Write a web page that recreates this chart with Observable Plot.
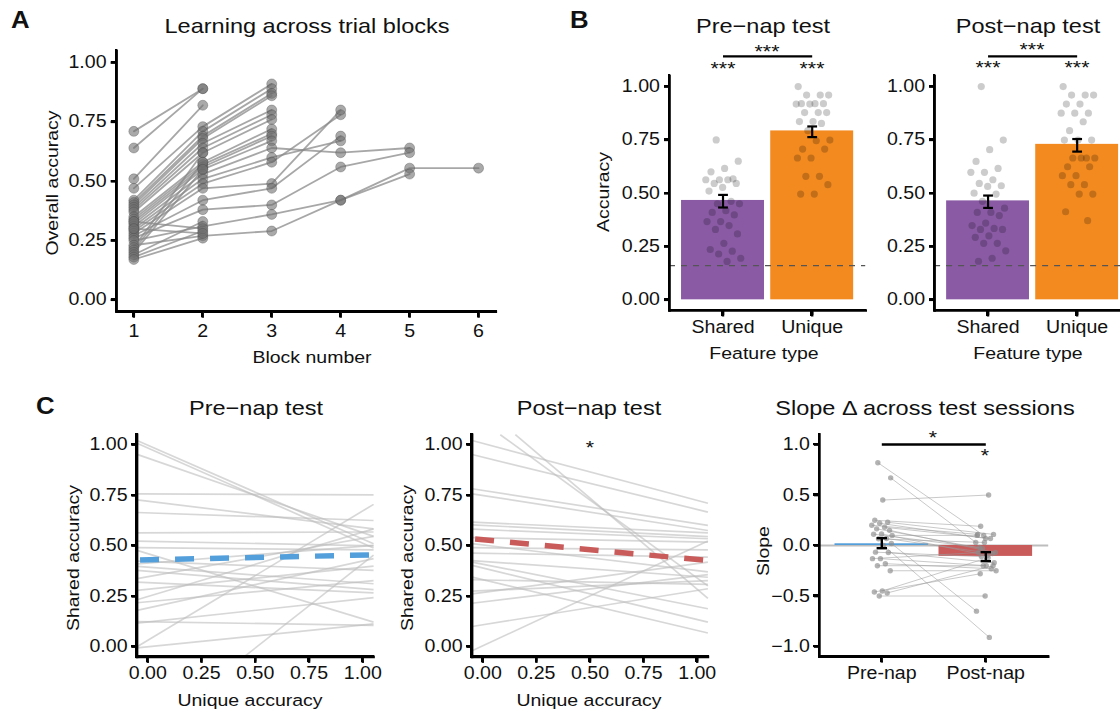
<!DOCTYPE html>
<html><head><meta charset="utf-8">
<script src="https://cdn.jsdelivr.net/npm/d3@7"></script>
<script src="https://cdn.jsdelivr.net/npm/@observablehq/plot@0.6"></script>
<style>
html,body{margin:0;padding:0;background:#fff;overflow:hidden}
#fig{position:relative;width:1120px;height:715px;overflow:hidden;background:#fff}
#fig > svg{position:absolute;left:0;top:0;display:block}
.axl{position:absolute;background:#000}
</style></head><body><div id="fig"></div>
<script>
// ---------------- DATA ----------------
// Panel A: overall accuracy per subject across trial blocks
const blockNumbers = [1, 2, 3, 4, 5, 6];
const learningCurves = [
  [0.71, 0.89],
  [0.64, 0.89],
  [0.51, 0.82],
  [0.47, 0.73, 0.91],
  [0.42, 0.71, 0.89],
  [0.41, 0.69, 0.87],
  [0.40, 0.68, 0.86],
  [0.39, 0.66, 0.80],
  [0.38, 0.64, 0.78],
  [0.37, 0.62, 0.76],
  [0.35, 0.58, 0.72],
  [0.34, 0.57, 0.70],
  [0.33, 0.56, 0.69],
  [0.32, 0.55, 0.67],
  [0.31, 0.53, 0.64, 0.62, 0.64],
  [0.30, 0.51, 0.60, 0.67],
  [0.29, 0.49, 0.58, 0.78],
  [0.28, 0.47, 0.49, 0.80],
  [0.27, 0.42, 0.47, 0.69],
  [0.26, 0.38, 0.40, 0.56, 0.62],
  [0.25, 0.31, 0.36, 0.42, 0.555, 0.555],
  [0.23, 0.27, 0.29, 0.42, 0.53],
  [0.22, 0.62],
  [0.21, 0.58],
  [0.20, 0.55],
  [0.19, 0.33],
  [0.18, 0.29],
  [0.17, 0.26],
  [0.33, 0.30],
  [0.30, 0.28]
];

// Panel B: accuracy by feature type
const featureTypes = ["Shared", "Unique"];
const preShared = [0.75,0.65,0.616,0.60,0.567,0.563,0.563,0.563,0.546,0.546,0.527,0.51,0.462,0.45,0.45,0.418,0.41,0.398,0.367,0.367,0.348,0.33,0.309,0.265,0.236,0.228,0.215,0.195,0.18];
const preUnique = [1.0,0.96,0.96,0.96,0.92,0.92,0.92,0.918,0.918,0.878,0.878,0.878,0.836,0.836,0.827,0.793,0.749,0.746,0.707,0.707,0.665,0.665,0.579,0.579,0.54,0.496,0.496];
const postShared = [1.0,0.749,0.704,0.649,0.616,0.598,0.598,0.563,0.546,0.535,0.532,0.5,0.496,0.462,0.43,0.41,0.41,0.395,0.36,0.348,0.335,0.33,0.33,0.30,0.293,0.265,0.265,0.23,0.195,0.181];
const postUnique = [1.0,0.96,0.96,0.96,0.918,0.918,0.875,0.875,0.875,0.835,0.793,0.749,0.749,0.749,0.665,0.665,0.665,0.665,0.624,0.624,0.582,0.582,0.54,0.54,0.496,0.496,0.413,0.371];
const preMeans = [0.466, 0.792];
const preSeLow = [0.433, 0.763];
const preSeHigh = [0.492, 0.813];
const postMeans = [0.464, 0.729];
const postSeLow = [0.431, 0.695];
const postSeHigh = [0.489, 0.754];
const chanceLevel = 0.16;

// Panel C: per-subject fits of shared accuracy on unique accuracy
const preIntercepts = [0.998,0.984,0.934,0.757,0.721,0.663,0.564,0.522,0.461,0.422,0.394,0.374,0.347,0.318,0.249,0.223,0.192,0.124,0.123,0.032,0.000,-0.424,0.49,0.414,0.285];
const preSlopes     = [-0.465,-0.471,-0.369,-0.005,-0.131,-0.036,0.004,-0.021,-0.323,-0.042,-0.078,-0.087,0.19,-0.049,0.319,0.10,0.233,-0.017,0.115,0.641,0.108,0.836,-0.01,0.084,0.109];
const postIntercepts = [1.113,1.187,1.007,0.939,0.774,0.749,0.615,0.601,0.58,0.539,0.504,0.463,0.423,0.409,0.39,0.332,0.331,0.278,0.269,0.222,0.109,0.005,0.49];
const postSlopes     = [-0.773,-0.902,-0.282,-0.259,-0.165,-0.165,-0.049,-0.053,-0.043,-0.02,-0.127,-0.018,-0.075,-0.21,-0.255,-0.251,-0.021,0.047,0.143,0.129,0.17,0.494,-0.01];
const preMeanFit = [0.431, 0.023];   // intercept, slope
const postMeanFit = [0.530, -0.098];

// Panel C right: slope change across sessions
const sessionLabels = ["Pre-nap", "Post-nap"];
const slopePre  = [0.82,0.67,0.45,0.25,0.23,0.22,0.20,0.18,0.165,0.15,0.115,0.112,0.069,0.066,0.02,0.0,-0.066,-0.069,-0.13,-0.13,-0.18,-0.20,-0.25,-0.45,-0.46,-0.47,-0.50,0.10];
const slopePost = [0.10,0.03,0.50,0.19,0.11,0.07,0.11,0.07,-0.03,-0.07,-0.10,-0.02,-0.08,0.03,-0.65,-0.91,-0.11,-0.17,-0.20,-0.07,-0.23,-0.20,-0.25,-0.12,-0.28,-0.20,-0.50,0.10];
const slopeMeans = [0.017, -0.108];
const slopeSeLow = [-0.027, -0.155];
const slopeSeHigh = [0.073, -0.066];

// ---------------- STYLE ----------------
const FONT = '"Liberation Sans", Arial, Helvetica, sans-serif';
const SX = 1.12;
const purple = "#8a5aa5", orange = "#f38a1f", blue = "#529fdb", red = "#ca5b5b";
const fig = document.getElementById("fig");
const SVGNS = "http://www.w3.org/2000/svg";
const master = document.createElementNS(SVGNS, "svg");
master.setAttribute("width", 1120);
master.setAttribute("height", 715);
master.setAttribute("viewBox", "0 0 1120 715");
fig.appendChild(master);

function jitter(k) { return ((k + 0.5) * 0.6180339887) % 1 * 2 - 1; }

function plotAt(opts, box) {
  const [x0, x1, y0, y1] = box;
  const p = Plot.plot({
    width: 1120, height: 715,
    marginLeft: x0, marginRight: 1120 - x1, marginTop: y0, marginBottom: 715 - y1,
    ...opts
  });
  p.querySelectorAll("text").forEach(t => {
    const tr = t.getAttribute("transform") || "";
    t.setAttribute("transform", (tr + ` scale(${SX},1)`).trim());
  });
  const g = document.createElementNS(SVGNS, "g");
  for (const a of ["fill", "text-anchor", "class"]) if (p.hasAttribute(a)) g.setAttribute(a, p.getAttribute(a));
  g.setAttribute("style", `font-family:${FONT};font-size:17.5px;color:#111`);
  while (p.firstChild) g.appendChild(p.firstChild);
  master.appendChild(g);
  return p;
}
// axis lines and tick marks drawn as links in data space (tick length converted from px)
function axisFrame(xd, yd, box, xTicks, yTicks) {
  const [x0, x1, y0, y1] = box;
  const dx = 5.5 * (xd[1] - xd[0]) / (x1 - x0);
  const dy = 6 * (yd[1] - yd[0]) / (y1 - y0);
  const S = {stroke: "#000"};
  return [
    Plot.link(xTicks, {x1: d => d, x2: d => d, y1: () => yd[0], y2: () => yd[0] - dy, ...S, strokeWidth: 2.4}),
    Plot.link(yTicks, {y1: d => d, y2: d => d, x1: () => xd[0], x2: () => xd[0] - dx, ...S, strokeWidth: 2.4}),
    Plot.link([0], {x1: () => xd[0], x2: () => xd[0], y1: () => yd[0], y2: () => yd[1], ...S, strokeWidth: 2.6, strokeLinecap: "square"}),
    Plot.link([0], {x1: () => xd[0], x2: () => xd[1], y1: () => yd[0], y2: () => yd[0], ...S, strokeWidth: 2.6, strokeLinecap: "square"})
  ];
}
// the same axis frame reinforced on the page layer, positioned with the plot's own scales
function frameLayer(p, xd, yd, xTicks, yTicks) {
  const sx = p.scale("x"), sy = p.scale("y");
  const X0 = sx.apply(xd[0]), X1 = sx.apply(xd[1]), Y0 = sy.apply(yd[0]), Y1 = sy.apply(yd[1]);
  const box = (l, t, w, h) => {
    const d = document.createElement("div");
    d.className = "axl";
    d.style.left = l + "px"; d.style.top = t + "px"; d.style.width = w + "px"; d.style.height = h + "px";
    fig.appendChild(d);
  };
  box(X0 - 1.3, Y1 - 1.3, 2.6, Y0 - Y1 + 2.6);
  box(X0 - 1.3, Y0 - 1.3, X1 - X0 + 2.6, 2.6);
  xTicks.forEach(t => box(sx.apply(t) - 1.2, Y0, 2.4, 6));
  yTicks.forEach(t => box(X0 - 5.5, sy.apply(t) - 1.2, 5.5, 2.4));
}
const yTicksAcc = [0, 0.25, 0.5, 0.75, 1];

// HTML text placed by its baseline anchor (x, y)
function label(str, x, y, o = {}) {
  const {size = 17.4, anchor = "middle", weight = "normal", rotate = 0} = o;
  const d = document.createElement("div");
  d.textContent = str;
  const ax = anchor === "start" ? "0%" : "50%";
  d.style.cssText = `position:absolute;left:${x}px;top:${y}px;white-space:nowrap;font-family:${FONT};` +
    `font-size:${size}px;font-weight:${weight};line-height:1.117em;color:#111;` +
    `transform-origin:${ax} 0.905em;transform:translate(-${ax},-0.905em)${rotate ? ` rotate(${rotate}deg)` : ""} scaleX(${SX});`;
  fig.appendChild(d);
}
function stars(p, str, xv, yv) {
  label(str, p.scale("x").apply(xv), p.scale("y").apply(yv), {size: 19});
}

// ---------------- PANEL A ----------------
{
  const xd = [0.75, 6.25], yd = [-0.05, 1.05], box = [116.1, 495.3, 50.2, 311.2];
  const long = learningCurves.flatMap((vals, s) => vals.map((v, i) => ({sub: s, block: blockNumbers[i], acc: v})));
  const p = plotAt({
    x: {domain: xd}, y: {domain: yd},
    marks: [
      Plot.line(long, {x: "block", y: "acc", z: "sub", stroke: "#8a8a8a", strokeOpacity: 0.75, strokeWidth: 1.8}),
      Plot.dot(long, {x: "block", y: "acc", r: 5, fill: "#6f6f6f", fillOpacity: 0.6, stroke: "#444", strokeOpacity: 0.4, strokeWidth: 0.8}),
      ...axisFrame(xd, yd, box, blockNumbers, yTicksAcc),
      Plot.axisX({ticks: blockNumbers, tickFormat: d => String(d), tickSize: 6, tickPadding: 7, label: null, strokeWidth: 2.4}),
      Plot.axisY({ticks: yTicksAcc, tickFormat: ".2f", tickSize: 5.5, tickPadding: 4.5, label: null, strokeWidth: 2.4})
    ]
  }, box);
  frameLayer(p, xd, yd, blockNumbers, yTicksAcc);
}

// ---------------- PANEL B ----------------
function panelB(sharedPts, uniquePts, means, lo, hi, box, starY, bracketStarY) {
  const xd = [0.4, 2.6], yd = [-0.05, 1.05];
  const BW = 0.93, CAP = 0.055;
  const bars = featureTypes.map((f, i) => ({i: i + 1, m: means[i], lo: lo[i], hi: hi[i]}));
  const pts = [
    ...sharedPts.map((v, k) => ({x: 1 + jitter(k) * 0.2, y: v})),
    ...uniquePts.map((v, k) => ({x: 2 + jitter(k + 11) * 0.2, y: v}))
  ];
  const cols = [purple, orange];
  const p = plotAt({
    x: {domain: xd}, y: {domain: yd},
    marks: [
      ...bars.map((b, i) => Plot.rectY([b], {x1: d => d.i - BW / 2, x2: d => d.i + BW / 2, y1: () => 0, y2: "m", fill: cols[i]})),
      Plot.ruleY([chanceLevel], {stroke: "#555", strokeWidth: 1.3, strokeDasharray: "6,6"}),
      Plot.dot(pts, {x: "x", y: "y", r: 3.6, fill: "#000", fillOpacity: 0.2}),
      Plot.ruleX(bars, {x: "i", y1: "lo", y2: "hi", stroke: "#000", strokeWidth: 2.2}),
      Plot.link(bars, {x1: d => d.i - CAP, x2: d => d.i + CAP, y1: "lo", y2: "lo", stroke: "#000", strokeWidth: 2.2}),
      Plot.link(bars, {x1: d => d.i - CAP, x2: d => d.i + CAP, y1: "hi", y2: "hi", stroke: "#000", strokeWidth: 2.2}),
      Plot.link([0], {x1: () => 1, x2: () => 2, y1: () => 1.142, y2: () => 1.142, stroke: "#000", strokeWidth: 2.2}),
      ...axisFrame(xd, yd, box, [1, 2], yTicksAcc),
      Plot.axisX({ticks: [1, 2], tickFormat: d => featureTypes[d - 1], tickSize: 5, tickPadding: 5, label: null, strokeWidth: 2.4}),
      Plot.axisY({ticks: yTicksAcc, tickFormat: ".2f", tickSize: 5, tickPadding: 4.5, label: null, strokeWidth: 2.4})
    ]
  }, box);
  frameLayer(p, xd, yd, [1, 2], yTicksAcc);
  stars(p, "***", 1, starY);
  stars(p, "***", 2, starY);
  stars(p, "***", 1.5, bracketStarY);
}
panelB(preShared, preUnique, preMeans, preSeLow, preSeHigh, [669, 865.2, 75.4, 310], 1.052, 1.131);
panelB(postShared, postUnique, postMeans, postSeLow, postSeHigh, [934.1, 1130.1, 75.4, 310], 1.056, 1.139);

// ---------------- PANEL C (fits) ----------------
// segment of y = a + b*x kept inside the panel's domain
function inside(a, b, xd, yd) {
  let lo = xd[0], hi = xd[1];
  if (b !== 0) {
    const xa = (yd[0] - a) / b, xb = (yd[1] - a) / b;
    lo = Math.max(lo, Math.min(xa, xb));
    hi = Math.min(hi, Math.max(xa, xb));
  }
  return {a, b, xs: lo, xe: hi};
}
function panelCFit(intercepts, slopes, meanFit, meanColor, box, star) {
  const xd = [-0.05, 1.05], yd = [-0.05, 1.05];
  const fits = intercepts.map((a, k) => inside(a, slopes[k], xd, yd)).filter(d => d.xe > d.xs);
  const mean = [inside(meanFit[0], meanFit[1], xd, yd)];
  const seg = {x1: "xs", x2: "xe", y1: d => d.a + d.b * d.xs, y2: d => d.a + d.b * d.xe};
  const p = plotAt({
    x: {domain: xd}, y: {domain: yd},
    marks: [
      Plot.link(fits, {...seg, stroke: "#bcbcbc", strokeOpacity: 0.6, strokeWidth: 1.7}),
      Plot.link(mean, {...seg, stroke: meanColor, strokeWidth: 5.5, strokeDasharray: "19,16", strokeDashoffset: -3}),
      ...axisFrame(xd, yd, box, yTicksAcc, yTicksAcc),
      Plot.axisX({ticks: yTicksAcc, tickFormat: ".2f", tickSize: 5, tickPadding: 5, label: null, strokeWidth: 2.4}),
      Plot.axisY({ticks: yTicksAcc, tickFormat: ".2f", tickSize: 5, tickPadding: 4.5, label: null, strokeWidth: 2.4})
    ]
  }, box);
  frameLayer(p, xd, yd, yTicksAcc, yTicksAcc);
  if (star) stars(p, "*", 0.5, 0.95);
}
panelCFit(preIntercepts, preSlopes, preMeanFit, blue, [136.55, 373.05, 434.2, 656.4], false);
panelCFit(postIntercepts, postSlopes, postMeanFit, red, [471.6, 707.4, 434.2, 656.4], true);

// ---------------- PANEL C (slopes) ----------------
{
  const xd = [0.4, 2.6], yd = [-1.1, 1.1], box = [818.9, 1047.7, 433.9, 656.1];
  const BW = 0.9, CAP = 0.05;
  const pairs = slopePre.map((v, k) => ({x1: 1 + jitter(k) * 0.1, y1: v, x2: 2 + jitter(k + 5) * 0.1, y2: slopePost[k]}));
  const pts = pairs.flatMap(p => [{x: p.x1, y: p.y1}, {x: p.x2, y: p.y2}]);
  const bars = sessionLabels.map((s, i) => ({i: i + 1, m: slopeMeans[i], lo: slopeSeLow[i], hi: slopeSeHigh[i]}));
  const cols = [blue, red];
  const slopeTicks = [-1, -0.5, 0, 0.5, 1];
  const p = plotAt({
    x: {domain: xd}, y: {domain: yd},
    marks: [
      Plot.link([0], {x1: () => xd[0], x2: () => xd[1], y1: () => 0, y2: () => 0, stroke: "#bdbdbd", strokeWidth: 2}),
      ...bars.map((b, i) => Plot.rectY([b], {x1: d => d.i - BW / 2, x2: d => d.i + BW / 2, y1: () => 0, y2: "m", fill: cols[i]})),
      Plot.link(pairs, {x1: "x1", y1: "y1", x2: "x2", y2: "y2", stroke: "#9a9a9a", strokeOpacity: 0.6, strokeWidth: 0.9}),
      Plot.dot(pts, {x: "x", y: "y", r: 2.7, fill: "#8a8a8a", fillOpacity: 0.65}),
      Plot.ruleX(bars, {x: "i", y1: "lo", y2: "hi", stroke: "#000", strokeWidth: 2.4}),
      Plot.link(bars, {x1: d => d.i - CAP, x2: d => d.i + CAP, y1: "lo", y2: "lo", stroke: "#000", strokeWidth: 2.4}),
      Plot.link(bars, {x1: d => d.i - CAP, x2: d => d.i + CAP, y1: "hi", y2: "hi", stroke: "#000", strokeWidth: 2.4}),
      Plot.link([0], {x1: () => 1, x2: () => 2, y1: () => 1.0, y2: () => 1.0, stroke: "#000", strokeWidth: 2.4}),
      ...axisFrame(xd, yd, box, [1, 2], slopeTicks),
      Plot.axisX({ticks: [1, 2], tickFormat: d => sessionLabels[d - 1], tickSize: 5, tickPadding: 5, label: null, strokeWidth: 2.4}),
      Plot.axisY({ticks: slopeTicks, tickFormat: ".1f", tickSize: 5, tickPadding: 4.5, label: null, strokeWidth: 2.4})
    ]
  }, box);
  frameLayer(p, xd, yd, [1, 2], slopeTicks);
  stars(p, "*", 1.5, 0.996);
  stars(p, "*", 2, 0.825);
}

// ---------------- TEXT ----------------
label("A", 10.5, 28.5, {size: 23, weight: "bold", anchor: "start"});
label("B", 570, 28.5, {size: 23, weight: "bold", anchor: "start"});
label("C", 36, 415, {size: 23, weight: "bold", anchor: "start"});
label("Learning across trial blocks", 306.5, 32.5, {size: 21});
label("Pre\u2212nap test", 763, 32.5, {size: 21});
label("Post\u2212nap test", 1028, 32.5, {size: 21});
label("Pre\u2212nap test", 256.3, 415, {size: 21});
label("Post\u2212nap test", 589.2, 415, {size: 21});
label("Slope \u0394 across test sessions", 924.7, 415, {size: 21});
label("Overall accuracy", 59, 182.5, {rotate: -90});
label("Block number", 312, 364);
label("Accuracy", 610, 191.7, {rotate: -90});
label("Feature type", 764.3, 360);
label("Feature type", 1028.3, 360);
label("Shared accuracy", 80, 557.5, {rotate: -90});
label("Shared accuracy", 413.5, 557.5, {rotate: -90});
label("Unique accuracy", 250, 706.5);
label("Unique accuracy", 589, 706.5);
label("Slope", 770, 551, {rotate: -90});
</script>
</body></html>
